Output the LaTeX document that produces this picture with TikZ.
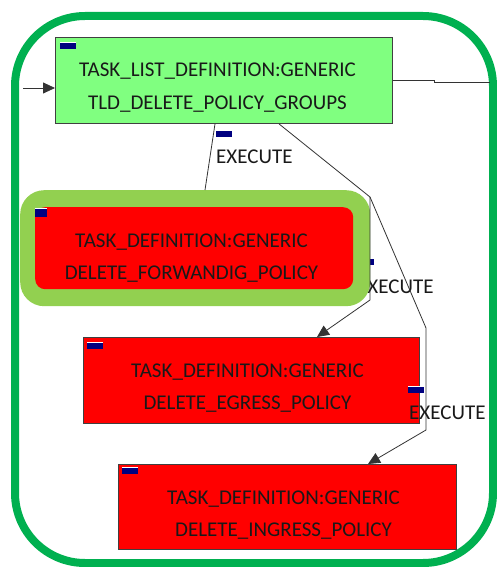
\documentclass[tikz,border=0pt]{standalone}
\usepackage{fontspec}
\setmainfont{Carlito}
\usetikzlibrary{arrows.meta,calc}
\definecolor{framegreen}{HTML}{00B050}
\definecolor{tldgreen}{HTML}{80FF80}
\definecolor{glowgreen}{HTML}{92D050}
\definecolor{navybar}{HTML}{000080}
\definecolor{taskred}{HTML}{FF0000}
\tikzset{
  box/.style={rectangle, draw=black!75, line width=0.9pt, inner sep=0pt, anchor=north west},
  txt/.style={inner sep=0pt, anchor=base, font=\fontsize{21}{33}\selectfont, text=black!90},
  lbl/.style={inner sep=0pt, anchor=base west, font=\fontsize{21}{33}\selectfont, text=black!90},
  marker/.style={fill=navybar, inner sep=0pt, minimum width=16pt, minimum height=7pt, anchor=north west,
    path picture={\draw[white,line width=1.6pt] (path picture bounding box.north west) -- (path picture bounding box.north east);}},
  conn/.style={draw=black!80, line width=0.8pt},
  tip/.style={-{Triangle[length=12pt,width=11pt]}}
}
\begin{document}
\begin{tikzpicture}[x=1pt,y=-1pt]
\useasboundingbox (0,0) rectangle (497,567);
\fill[white] (0,0) rectangle (497,567);
% outer frame
\draw[framegreen, line width=8pt, rounded corners=70pt] (15,16) rectangle (493,563);

% top node
\node[box, fill=tldgreen, minimum width=337pt, minimum height=86pt] (tld) at (55,37) {};
\node[marker] (mtld) at (60,42) {};
\node[txt] (tld1) at (217.5,77) {TASK\_LIST\_DEFINITION:GENERIC};
\node[txt] (tld2) at (217.5,110) {TLD\_DELETE\_POLICY\_GROUPS};

% label under the glow
\node[marker] (mex2) at (358,258) {};
\node[lbl] (ex2) at (357,293) {EXECUTE};

% highlighted node
\node[rectangle, fill=glowgreen, rounded corners=24pt, inner sep=0pt, anchor=north west,
      minimum width=350pt, minimum height=116pt] (glow) at (20,190) {};
\node[rectangle, fill=taskred, rounded corners=10pt, inner sep=0pt, anchor=north west,
      minimum width=318pt, minimum height=82pt] (fwd) at (35,207) {};
\node[marker, minimum width=12pt, minimum height=9pt] (mfwd) at (35,208) {};
\node[txt] (fwd1) at (191.5,247) {TASK\_DEFINITION:GENERIC};
\node[txt] (fwd2) at (191.5,279) {DELETE\_FORWANDIG\_POLICY};

% egress node
\node[box, fill=taskred, minimum width=336pt, minimum height=86pt] (egr) at (83,337) {};
\node[marker] (megr) at (87,342) {};
\node[txt] (egr1) at (247.5,377.5) {TASK\_DEFINITION:GENERIC};
\node[txt] (egr2) at (247.5,409.5) {DELETE\_EGRESS\_POLICY};

% ingress node
\node[box, fill=taskred, minimum width=338pt, minimum height=85pt] (ing) at (118,464) {};
\node[marker] (ming) at (122,467) {};
\node[txt] (ing1) at (283.5,504) {TASK\_DEFINITION:GENERIC};
\node[txt] (ing2) at (283.5,536) {DELETE\_INGRESS\_POLICY};

% connectors
\coordinate (start) at (23,88);
\draw[conn, tip] (start) -- (tld.west |- start);
\coordinate (offright) at (490,82);
\draw[conn] ([yshift=-43pt]tld.north east) -- (434,80) -- (434,82) -- (offright);

\draw[conn] ([xshift=160pt]tld.south west) -- ([xshift=185pt]glow.north west);
\node[marker] (mex1) at (216,130) {};
\node[lbl] (ex1) at (216,163) {EXECUTE};

\coordinate (split) at (370,197);
\draw[conn] ([xshift=224pt]tld.south west) -- (split);
\draw[conn, tip] (split) -- (370,300) -- ([xshift=234pt]egr.north west);
\draw[conn, tip] (split) -- (426,328) -- (426,430) -- ([xshift=250pt]ing.north west);

\node[marker] (mex3) at (408,386) {};
\node[lbl] (ex3) at (409,419) {EXECUTE};
\end{tikzpicture}
\end{document}
